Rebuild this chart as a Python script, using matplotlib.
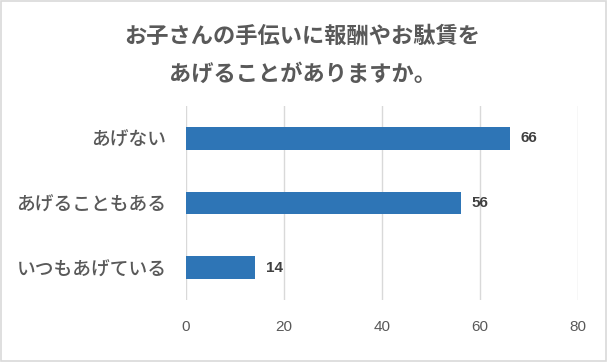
import matplotlib
matplotlib.use("Agg")
import matplotlib.pyplot as plt
from matplotlib.patches import Rectangle

plt.rcParams['font.family'] = ['Noto Sans CJK JP', 'DejaVu Sans']

categories = ["あげない", "あげることもある", "いつもあげている"]
values = [66, 56, 14]
xticks = [0, 20, 40, 60, 80]
title = "お子さんの手伝いに報酬やお駄賃を\nあげることがありますか。"

fig = plt.figure(figsize=(6.08, 3.62), dpi=100)
ax = fig.add_axes([0.306, 0.171, 0.645, 0.536])

ypos = list(range(len(categories)))
bars = ax.barh(ypos, values, height=0.35, color="#2E75B6", zorder=3)
ax.set_ylim(len(categories) - 0.5, -0.5)
ax.set_xlim(0, 80)
ax.set_xticks(xticks)
ax.set_yticks(ypos)
ax.set_yticklabels(categories, fontsize=13.5, color="#595959", fontweight='medium')
ax.tick_params(axis='x', labelsize=11, colors="#595959", length=0, pad=14)
ax.tick_params(axis='y', length=0, pad=14)
for lbl in ax.get_xticklabels():
    lbl.set_family(['Liberation Sans', 'DejaVu Sans'])
ax.grid(axis='x', color="#D9D9D9", linewidth=1, zorder=0)
for s in ax.spines.values():
    s.set_visible(False)

for b, v in zip(bars, values):
    ax.text(b.get_width() + 2.3, b.get_y() + b.get_height() / 2, str(v),
            va='center', ha='left', fontsize=11, fontweight='bold',
            color="#404040", family=['Liberation Sans', 'DejaVu Sans'])

fig.text(0.497, 0.848, title, ha='center', va='center', fontsize=16,
         fontweight='bold', color="#595959", linespacing=1.85)

fig.patches.append(Rectangle((0.002, 0.003), 0.995, 0.994, transform=fig.transFigure,
                             fill=False, edgecolor="#D9D9D9", linewidth=1.2))

fig.savefig("out.png", dpi=100)
